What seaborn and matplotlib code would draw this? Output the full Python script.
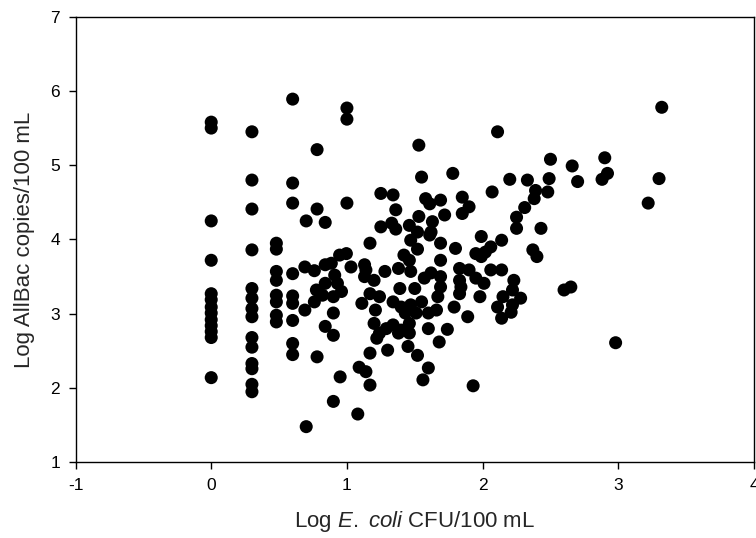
import matplotlib
matplotlib.use("Agg")
import matplotlib.pyplot as plt
import seaborn as sns
import pandas as pd

# x = Log E. coli CFU/100 mL, y = Log AllBac copies/100 mL
col_0_y = [5.58, 5.50, 4.25, 3.72, 3.27, 3.19, 3.09, 3.01, 2.92, 2.84, 2.76, 2.68, 2.14]
col_03_y = [5.45, 4.80, 4.41, 3.86, 3.34, 3.21, 3.07, 2.96, 2.68, 2.55, 2.33, 2.26, 2.05, 1.95]
col_048_y = [3.95, 3.87, 3.57, 3.45, 3.25, 3.16, 2.98, 2.89]
col_06_y = [5.89, 4.76, 4.49, 3.54, 3.24, 3.14, 2.91, 2.60, 2.45]

low_x = [0.70, 0.78, 0.78, 0.84, 1.00, 1.00, 1.00, 1.17, 1.25, 1.34, 1.25, 1.33, 1.36, 1.36,
         0.69, 0.76, 0.84, 0.885, 0.946, 0.996, 0.91, 1.03, 1.13, 1.13, 0.775, 0.84, 0.93, 0.96,
         0.90, 0.82, 0.76, 0.69, 0.90, 1.11, 1.17, 0.84, 0.90, 0.70, 0.90, 1.08, 0.78, 0.95,
         1.09, 1.14, 1.17, 1.17, 1.20, 1.22, 1.21, 1.24, 1.14, 1.20]
low_y = [4.25, 4.41, 5.21, 4.23, 5.77, 5.62, 4.49, 3.95, 4.62, 4.60, 4.17, 4.22, 4.14, 4.40,
         3.63, 3.58, 3.66, 3.68, 3.79, 3.81, 3.52, 3.63, 3.66, 3.50, 3.32, 3.41, 3.41, 3.30,
         3.23, 3.25, 3.16, 3.05, 3.01, 3.14, 3.27, 2.83, 2.71, 1.48, 1.82, 1.65, 2.42, 2.15,
         2.28, 2.22, 2.04, 2.47, 2.87, 2.67, 3.05, 3.23, 3.59, 3.45]

mid_x = [1.55, 1.53, 1.78, 2.11, 1.58, 1.61, 1.69, 1.85, 1.90, 1.85, 1.53, 1.72,
         1.46, 1.52, 1.63, 1.62, 1.61, 1.47, 1.69, 1.80, 1.52, 1.42, 1.46, 1.69,
         1.28, 1.38, 1.47, 1.62, 1.69, 1.83, 1.83, 1.57, 1.39, 1.50, 1.69, 1.84,
         1.34, 1.40, 1.47, 1.55, 1.51, 1.43, 1.60, 1.66, 1.67, 1.83, 1.79, 1.89,
         1.34, 1.29, 1.24, 1.40, 1.46, 1.46, 1.38, 1.60, 1.74, 1.68,
         1.30, 1.45, 1.52, 1.60, 1.56, 1.93]
mid_y = [4.84, 5.27, 4.89, 5.45, 4.55, 4.48, 4.53, 4.57, 4.44, 4.35, 4.31, 4.33,
         4.19, 4.10, 4.24, 4.10, 4.06, 3.99, 3.95, 3.88, 3.87, 3.79, 3.72, 3.72,
         3.57, 3.61, 3.57, 3.55, 3.50, 3.61, 3.45, 3.48, 3.34, 3.34, 3.36, 3.36,
         3.16, 3.09, 3.12, 3.16, 3.01, 3.01, 3.01, 3.05, 3.23, 3.27, 3.09, 2.96,
         2.85, 2.80, 2.74, 2.78, 2.87, 2.74, 2.74, 2.80, 2.79, 2.62,
         2.51, 2.56, 2.44, 2.27, 2.11, 2.03]

high_x = [2.07, 2.20, 2.33, 2.49, 2.50, 2.39, 2.48, 2.38, 2.31, 2.25, 2.25, 2.43,
          1.99, 2.14, 2.06, 2.02, 1.95, 1.99, 2.37, 2.40,
          1.90, 2.06, 2.14, 1.95, 2.01, 2.23, 2.22, 2.28, 2.15, 1.98, 2.22, 2.11, 2.21, 2.14,
          2.60, 2.65, 3.32, 2.66, 2.90, 2.92, 2.88, 2.70, 3.30, 3.22, 2.98]
high_y = [4.64, 4.81, 4.80, 4.82, 5.08, 4.66, 4.64, 4.55, 4.43, 4.30, 4.15, 4.15,
          4.04, 3.99, 3.90, 3.83, 3.81, 3.77, 3.86, 3.77,
          3.59, 3.59, 3.59, 3.48, 3.41, 3.45, 3.32, 3.21, 3.23, 3.23, 3.12, 3.09, 3.02, 2.94,
          3.32, 3.36, 5.78, 4.99, 5.10, 4.89, 4.81, 4.78, 4.82, 4.49, 2.61]

x_ticks = [-1, 0, 1, 2, 3, 4]
y_ticks = [1, 2, 3, 4, 5, 6, 7]

xs = ([0.0] * len(col_0_y) + [0.30] * len(col_03_y) + [0.48] * len(col_048_y)
      + [0.60] * len(col_06_y) + low_x + mid_x + high_x)
ys = col_0_y + col_03_y + col_048_y + col_06_y + low_y + mid_y + high_y
df = pd.DataFrame({"ecoli": xs, "allbac": ys})

sns.set_theme(style="ticks")
plt.rcParams["font.family"] = ["Liberation Sans", "DejaVu Sans"]
plt.rcParams["mathtext.fontset"] = "custom"
plt.rcParams["mathtext.rm"] = "Liberation Sans"
plt.rcParams["mathtext.it"] = "Liberation Sans:italic"

fig = plt.figure(figsize=(7.56, 5.38), dpi=100)
ax = fig.add_axes([0.0999, 0.1407, 0.8975, 0.8283])
sns.scatterplot(data=df, x="ecoli", y="allbac", ax=ax, color="black",
                s=88, edgecolor="none", linewidth=0, legend=False)

ax.set_xlim(-1, 4)
ax.set_ylim(1, 7)
ax.set_xticks(x_ticks)
ax.set_yticks(y_ticks)
ax.set_xticklabels([str(t) for t in x_ticks])
ax.set_yticklabels([str(t) for t in y_ticks])
for side in ["top", "right", "left", "bottom"]:
    ax.spines[side].set_visible(True)
    ax.spines[side].set_linewidth(1.0)
    ax.spines[side].set_color("black")
ax.tick_params(axis="both", which="both", direction="out", length=5, width=1.0,
               labelsize=12.5, pad=6, colors="black", top=False, right=False)
ax.set_xlabel(r"Log $\mathit{E.}$ $\mathit{coli}$ CFU/100 mL", fontsize=16, labelpad=12)
ax.set_ylabel("Log AllBac copies/100 mL", fontsize=16, labelpad=11)
ax.grid(False)

fig.savefig("out.png", dpi=100)
